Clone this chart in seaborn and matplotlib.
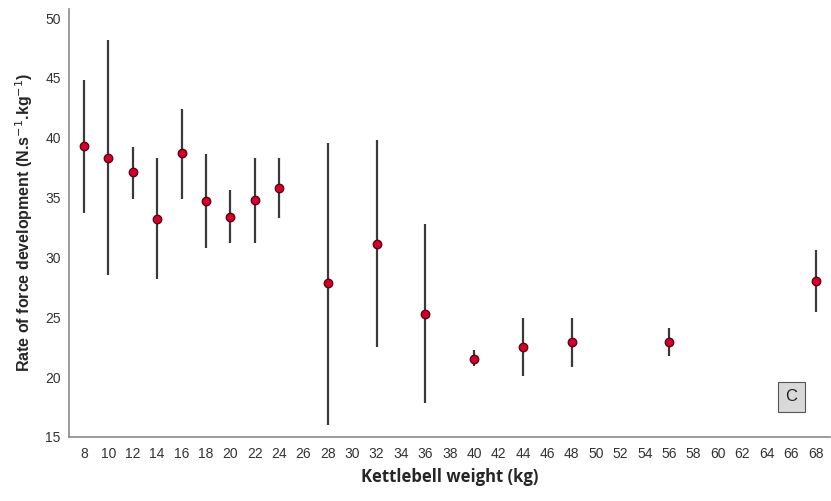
import numpy as np
import pandas as pd
import matplotlib.pyplot as plt
import seaborn as sns

# values
weights = [8, 10, 12, 14, 16, 18, 20, 22, 24, 28, 32, 36, 40, 44, 48, 56, 68]
rfd_mean = [39.3, 38.3, 37.1, 33.2, 38.7, 34.7, 33.4, 34.8, 35.8, 27.9, 31.1, 25.3, 21.5, 22.5, 22.9, 22.9, 28.0]
rfd_upper = [44.8, 48.2, 39.2, 38.3, 42.4, 38.6, 35.6, 38.3, 38.3, 39.6, 39.8, 32.8, 22.3, 24.9, 24.9, 24.1, 30.6]
rfd_lower = [33.7, 28.5, 34.9, 28.2, 34.9, 30.8, 31.2, 31.2, 33.3, 16.0, 22.5, 17.8, 20.9, 20.1, 20.8, 21.8, 25.4]
x_ticks = list(range(8, 70, 2))

df = pd.DataFrame({'weight': weights, 'mean': rfd_mean, 'upper': rfd_upper, 'lower': rfd_lower})

sns.set_style('white')
plt.rcParams['font.family'] = ['Liberation Sans', 'DejaVu Sans']

fig = plt.figure(figsize=(8.31, 5.01), dpi=100)
ax = fig.add_axes([0.083, 0.128, 0.916, 0.855])

# error bars
ax.vlines(df['weight'], df['lower'], df['upper'], color='#3a3a3a', linewidth=1.6, zorder=2)
# mean points
sns.scatterplot(data=df, x='weight', y='mean', ax=ax, s=38, color='#d0002a',
                edgecolor='#5a0010', linewidth=0.9, zorder=3)

ax.set_xlim(6.77, 69.2)
ax.set_ylim(15, 50.8)
ax.set_xticks(x_ticks)
ax.set_yticks([15, 20, 25, 30, 35, 40, 45, 50])
ax.tick_params(axis='both', length=0, labelsize=10, labelcolor='#333333')
ax.tick_params(axis='x', pad=7)
ax.tick_params(axis='y', pad=6)

for side in ['top', 'right']:
    ax.spines[side].set_visible(False)
for side in ['left', 'bottom']:
    ax.spines[side].set_color('#8a8a8a')
    ax.spines[side].set_linewidth(1.2)

ax.set_xlabel('Kettlebell weight (kg)', fontsize=12, fontweight='bold',
              family=['Open Sans', 'DejaVu Sans'], labelpad=5)
ax.set_ylabel('Rate of force development (N.s$^{-1}$.kg$^{-1}$)', fontsize=11.5,
              fontweight='bold', labelpad=7)

# panel letter
ax.text(66, 18.35, 'C', fontsize=12, ha='center', va='center', color='#222222',
        bbox=dict(boxstyle='square,pad=0.45', facecolor='#d9d9d9', edgecolor='#555555', linewidth=0.8))

plt.savefig('out.png', dpi=100)
plt.close()
